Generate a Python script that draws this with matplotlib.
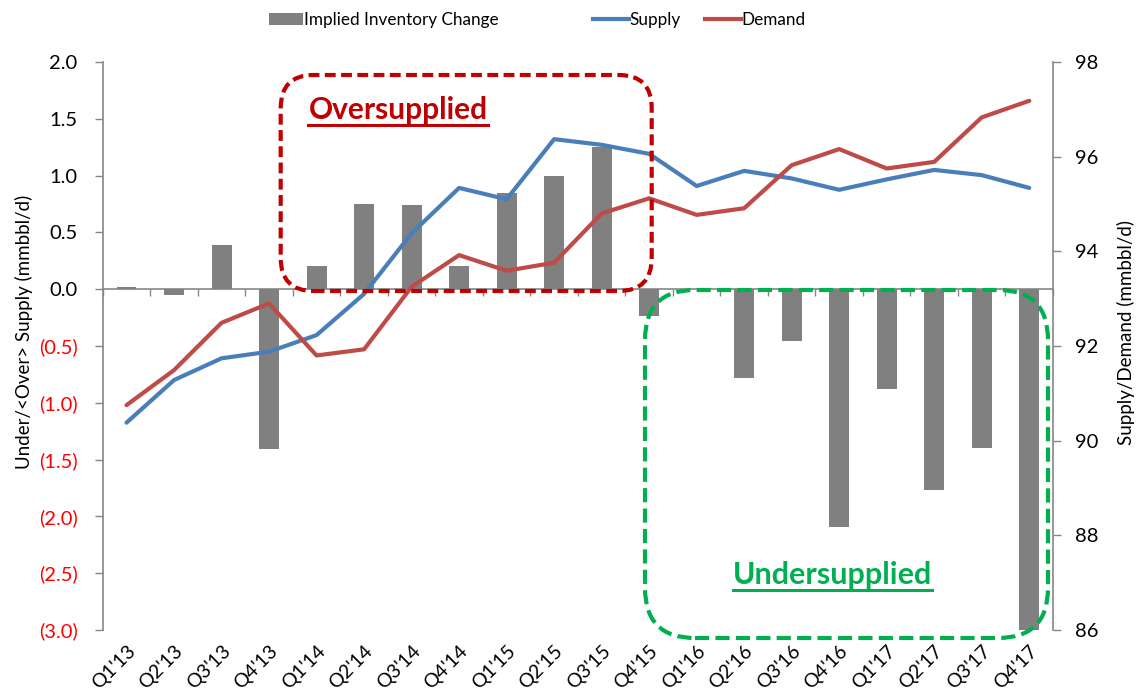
import matplotlib
matplotlib.use("Agg")
import matplotlib.pyplot as plt
import numpy as np
from matplotlib.patches import FancyBboxPatch, Patch
from matplotlib.lines import Line2D
from matplotlib.ticker import FixedLocator, FuncFormatter

plt.rcParams['font.family'] = ['Lato', 'DejaVu Sans']

quarters = ["Q1'13", "Q2'13", "Q3'13", "Q4'13", "Q1'14", "Q2'14", "Q3'14", "Q4'14",
            "Q1'15", "Q2'15", "Q3'15", "Q4'15", "Q1'16", "Q2'16", "Q3'16", "Q4'16",
            "Q1'17", "Q2'17", "Q3'17", "Q4'17"]
inventory_change = [0.02, -0.05, 0.39, -1.41, 0.20, 0.75, 0.74, 0.20,
                    0.85, 1.00, 1.25, -0.24, 0.00, -0.78, -0.46, -2.09,
                    -0.88, -1.77, -1.40, -3.00]
supply = [90.38, 91.28, 91.74, 91.88, 92.23, 93.10, 94.38, 95.34,
          95.10, 96.37, 96.25, 96.06, 95.38, 95.70, 95.54, 95.30,
          95.52, 95.72, 95.61, 95.34]
demand = [90.75, 91.49, 92.49, 92.90, 91.80, 91.93, 93.25, 93.92,
          93.59, 93.76, 94.80, 95.12, 94.77, 94.91, 95.82, 96.16,
          95.75, 95.89, 96.83, 97.18]
left_ticks = [2.0, 1.5, 1.0, 0.5, 0.0, -0.5, -1.0, -1.5, -2.0, -2.5, -3.0]
right_ticks = [86, 88, 90, 92, 94, 96, 98]

BAR = '#808080'
BLUE = '#4A7EBB'
RED = '#BE4B48'
AXC = '#868686'
DARKRED = '#C00000'
GREEN = '#00B050'

W, H = 1142, 694
fig = plt.figure(figsize=(W / 100, H / 100), dpi=100)
ax = fig.add_axes([102.75 / W, 1 - 630 / H, (1053 - 102.75) / W, (630 - 62) / H])
x = np.arange(len(quarters))

ax.bar(x, inventory_change, width=0.42, color=BAR, zorder=2)
ax.set_xlim(-0.5, len(quarters) - 0.5)
ax.set_ylim(-3.0, 2.0)
ax.yaxis.set_major_locator(FixedLocator(left_ticks))
ax.yaxis.set_major_formatter(FuncFormatter(
    lambda v, p: f"({abs(v):.1f})" if v < -1e-9 else f"{v:.1f}"))
ax.tick_params(axis='y', length=6, width=1, color=AXC, labelsize=14.5, pad=12)
fig.canvas.draw()
for t in ax.get_yticklabels():
    t.set_color('#FF0000' if t.get_text().startswith('(') else 'black')

ax.set_xticks(x)
ax.set_xticklabels(quarters, rotation=45, ha='right', va='top',
                   rotation_mode='anchor', fontsize=14)
ax.tick_params(axis='x', length=0, pad=9)
for s in ['top', 'right', 'bottom']:
    ax.spines[s].set_visible(False)
ax.spines['left'].set_color(AXC)
ax.spines['left'].set_linewidth(1.2)
ax.set_ylabel('Under/<Over> Supply (mmbbl/d)', fontsize=13.5)
ax.yaxis.set_label_coords((33 - 102.75) / 950.25, (630 - 332) / 568)

# zero line with boundary ticks
sec = ax.secondary_xaxis(0, transform=ax.transData)
sec.set_xticks(np.arange(len(quarters) + 1) - 0.5)
sec.tick_params(axis='x', length=5, width=1, color=AXC, labelbottom=False, direction='out')
sec.spines['bottom'].set_color(AXC)
sec.spines['bottom'].set_linewidth(1.2)

ax2 = ax.twinx()
ax2.plot(x, supply, color=BLUE, lw=3.0, solid_capstyle='round', zorder=3)
ax2.plot(x, demand, color=RED, lw=3.0, solid_capstyle='round', zorder=3)
ax2.set_ylim(86, 98)
ax2.set_yticks(right_ticks)
ax2.set_yticklabels([str(v) for v in right_ticks])
ax2.tick_params(axis='y', length=6, width=1, color=AXC, labelsize=14.5, pad=9.5)
for s in ['top', 'left', 'bottom']:
    ax2.spines[s].set_visible(False)
ax2.spines['right'].set_color(AXC)
ax2.spines['right'].set_linewidth(1.2)
ax2.set_ylabel('Supply/Demand (mmbbl/d)', fontsize=13.5)
ax2.yaxis.set_label_coords((1117 - 102.75) / 950.25, (630 - 332) / 568)

# legends
h1 = [Patch(facecolor=BAR, edgecolor='none')]
leg1 = fig.legend(h1, ['Implied Inventory Change'], loc='center left',
                  bbox_to_anchor=(269 / W, 1 - 20 / H), frameon=False, fontsize=12.3,
                  handlelength=2.0, handleheight=0.65, handletextpad=0.05,
                  borderpad=0, borderaxespad=0)
h2 = [Line2D([], [], color=BLUE, lw=3.0), Line2D([], [], color=RED, lw=3.0)]
leg2 = fig.legend(h2, ['Supply', 'Demand'], loc='center left', ncol=2,
                  bbox_to_anchor=(593 / W, 1 - 20 / H), frameon=False, fontsize=12.3,
                  handlelength=2.1, handletextpad=0.05, columnspacing=1.4,
                  borderpad=0, borderaxespad=0)

# annotation boxes (in inches from figure bottom-left)
red_box = FancyBboxPatch((2.807, (H - 291) / 100), 3.71, 2.16,
                         boxstyle='round,pad=0,rounding_size=0.33',
                         transform=fig.dpi_scale_trans, fill=False,
                         edgecolor=DARKRED, lw=3, linestyle=(0, (2.6, 1.3)), zorder=5)
green_box = FancyBboxPatch((6.45, (H - 638) / 100), 4.03, 3.48,
                           boxstyle='round,pad=0,rounding_size=0.5',
                           transform=fig.dpi_scale_trans, fill=False,
                           edgecolor=GREEN, lw=3, linestyle=(0, (3.4, 1.5)), zorder=5)
fig.add_artist(red_box)
fig.add_artist(green_box)

t1 = fig.text(398 / W, 1 - 110 / H, 'Oversupplied', color=DARKRED, fontsize=21.5,
              fontweight='bold', ha='center', va='center')
t2 = fig.text(832.5 / W, 1 - 575 / H, 'Undersupplied', color=GREEN, fontsize=22,
              fontweight='bold', ha='center', va='center')

fig.canvas.draw()
r = fig.canvas.get_renderer()
for t, uy, col in [(t1, 125, DARKRED), (t2, 590, GREEN)]:
    bb = t.get_window_extent(r)
    fig.add_artist(Line2D([bb.x0 / W, bb.x1 / W], [1 - uy / H, 1 - uy / H],
                          transform=fig.transFigure, color=col, lw=2.2))

fig.savefig('out.png', dpi=100)
